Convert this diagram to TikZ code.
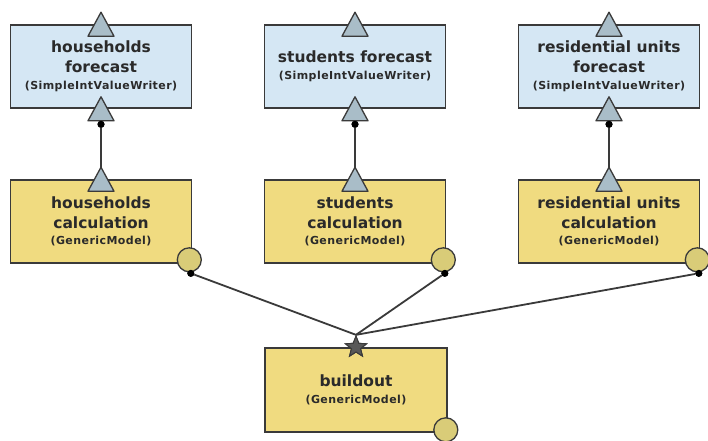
\documentclass[tikz,border=0pt]{standalone}
\usepackage{fontspec}
\setmainfont{DejaVu Sans}
\usetikzlibrary{shapes.geometric}
\definecolor{bluefill}{HTML}{D5E7F4}
\definecolor{yelfill}{HTML}{F0DB80}
\definecolor{trifill}{HTML}{A9BDC8}
\definecolor{circfill}{HTML}{D9CC78}
\definecolor{edgec}{HTML}{3A3A3A}
\definecolor{txt}{HTML}{2A2A2A}
\newcommand{\subt}[1]{{\fontsize{11}{13}\selectfont\addfontfeatures{LetterSpace=4}#1}}
\tikzset{
  box/.style={draw=edgec, line width=1.6pt, minimum width=181pt, minimum height=83pt,
    inner sep=0pt, align=center, text=txt, font=\bfseries\fontsize{15.5}{19.5}\selectfont},
  writer/.style={box, fill=bluefill},
  model/.style={box, fill=yelfill},
  port/.pic={\draw[draw=edgec, fill=trifill, line width=1.3pt, line join=round]
     (-13,12) -- (0,-12) -- (13,12) -- cycle;},
  outport/.style={circle, draw=edgec, fill=circfill, line width=1.3pt, minimum size=24pt, inner sep=0pt},
  dotn/.style={circle, fill=black, minimum size=7pt, inner sep=0pt},
  conn/.style={draw=edgec, line width=1.8pt},
  inport/.style={star, star points=5, star point ratio=2.3, draw=edgec, fill=edgec!85, line width=1pt,
     minimum size=22pt, inner sep=0pt}
}
\begin{document}
\begin{tikzpicture}[x=1pt,y=-1pt]
\useasboundingbox[fill=white] (0,0) rectangle (708,440);

% writers
\node[writer] (hf) at (101,66.5) {households\\forecast\\[-2pt]\subt{(SimpleIntValueWriter)}};
\node[writer] (sf) at (355,66.5) {students forecast\\[-2pt]\subt{(SimpleIntValueWriter)}};
\node[writer] (rf) at (609,66.5) {residential units\\forecast\\[-2pt]\subt{(SimpleIntValueWriter)}};

% models
\node[model] (hc) at (101,221.5) {households\\calculation\\[-3pt]\subt{(GenericModel)}};
\node[model] (sc) at (355,221.5) {students\\calculation\\[-3pt]\subt{(GenericModel)}};
\node[model] (rc) at (609,221.5) {residential units\\calculation\\[-3pt]\subt{(GenericModel)}};

\node[model, minimum width=182pt, minimum height=84pt] (bo) at (356,390) {buildout\\[-3pt]\subt{(GenericModel)}};

% dots below writers and vertical connectors
\foreach \w/\m in {hf/hc,sf/sc,rf/rc}{
  \node[dotn] (d\w) at ([yshift=-15.5pt]\w.south) {};
  \coordinate (a\m) at ([yshift=12pt]\m.north);
  \draw[conn] (d\w) -- (a\m);
}

% ports on writers and models
\foreach \n in {hf,sf,rf}{
  \pic at (\n.north) {port};
  \pic at (\n.south) {port};
}
\foreach \n in {hc,sc,rc}{
  \pic at (\n.north) {port};
}
\foreach \w in {hf,sf,rf}{
  \node[dotn] at (d\w) {};
}

% star input on buildout
\node[inport] (st) at (bo.north) {};

% output ports of models
\foreach \m in {hc,sc,rc}{
  \coordinate (c\m) at ([xshift=-3pt,yshift=4pt]\m.south east);
  \node[dotn] (o\m) at ([xshift=1.5pt,yshift=-13.5pt]c\m) {};
  \draw[conn] (o\m) -- (st.north);
  \node[outport] (p\m) at (c\m) {};
  \node[dotn] at (o\m) {};
}
\node[outport] (pbo) at ([xshift=-2pt,yshift=3pt]bo.south east) {};
\node[inport] at (bo.north) {};
\end{tikzpicture}
\end{document}
